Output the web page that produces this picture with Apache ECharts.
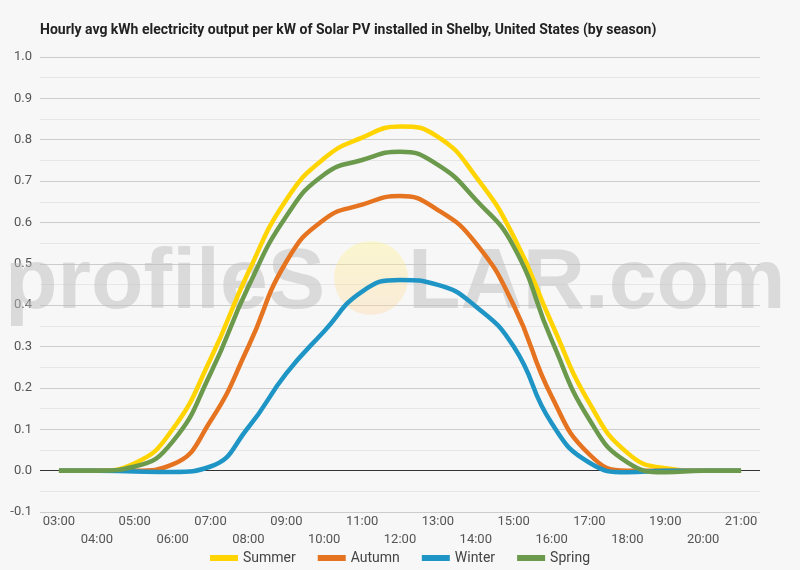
<!DOCTYPE html>
<html>
<head>
<meta charset="utf-8">
<script src="https://cdn.jsdelivr.net/npm/echarts@6/dist/echarts.min.js"></script>
<style>
  html, body { margin: 0; padding: 0; background: #f7f7f7; }
  #chart { width: 800px; height: 570px; }
</style>
</head>
<body>
<div id="chart"></div>
<script>
// hourly averages, 03:00 .. 21:00
const hours = ['03:00', '04:00', '05:00', '06:00', '07:00', '08:00', '09:00', '10:00', '11:00', '12:00',
  '13:00', '14:00', '15:00', '16:00', '17:00', '18:00', '19:00', '20:00', '21:00'];

const summer = [0, 0, 0.018, 0.10, 0.27, 0.48, 0.655, 0.755, 0.805, 0.832, 0.807, 0.711, 0.566, 0.357, 0.163, 0.043, 0.006, 0, 0];
const autumn = [0, 0, 0, 0.015, 0.12, 0.30, 0.505, 0.607, 0.643, 0.664, 0.63, 0.55, 0.40, 0.18, 0.039, 0, 0, 0, 0];
const winter = [0, 0, -0.002, -0.003, 0.01, 0.105, 0.235, 0.337, 0.433, 0.461, 0.449, 0.397, 0.30, 0.115, 0.019, -0.004, 0, 0, 0];
const spring = [0, 0, 0.01, 0.07, 0.235, 0.445, 0.615, 0.716, 0.751, 0.771, 0.739, 0.655, 0.542, 0.316, 0.123, 0.02, -0.004, 0, 0];

const yTicks = { min: -0.1, max: 1.0, step: 0.1 };

const seasons = [
  { name: 'Summer', data: summer, color: '#ffd400' },
  { name: 'Autumn', data: autumn, color: '#e5731f' },
  { name: 'Winter', data: winter, color: '#1f95c6' },
  { name: 'Spring', data: spring, color: '#6c9a4d' }
];

const font = 'Roboto, "Noto Sans", sans-serif';
const markFont = 'bold 86px "Liberation Sans", Arial, sans-serif';
const chart = echarts.init(document.getElementById('chart'));

const series = seasons.map((s, i) => ({
  name: s.name,
  type: 'line',
  data: s.data,
  smooth: true,
  symbol: 'none',
  z: 3,
  lineStyle: { color: s.color, width: 4.5 },
  itemStyle: { color: s.color },
  markLine: i === 0 ? {
    silent: true,
    symbol: 'none',
    label: { show: false },
    lineStyle: { color: '#333', width: 1, type: 'solid' },
    data: [{ yAxis: 0 }],
    z: 2
  } : undefined
}));

chart.setOption({
  backgroundColor: '#f7f7f7',
  animation: false,
  textStyle: { fontFamily: font },
  title: {
    text: 'Hourly avg kWh electricity output per kW of Solar PV installed in Shelby, United States (by season)',
    left: 35,
    top: 18,
    textStyle: { fontSize: 14, fontWeight: 'bold', color: '#222', fontFamily: font }
  },
  graphic: [
    {
      type: 'text', z: 1, silent: true,
      left: 5, top: 241,
      style: { text: 'profileS', font: markFont, fill: 'rgba(190,190,190,0.5)' }
    },
    {
      type: 'circle', z: 1, silent: true,
      shape: { cx: 371, cy: 278, r: 37 },
      style: {
        fill: new echarts.graphic.LinearGradient(0, 0, 0, 1, [
          { offset: 0, color: 'rgba(255,245,140,0.38)' },
          { offset: 1, color: 'rgba(255,210,150,0.32)' }
        ])
      }
    },
    {
      type: 'text', z: 1, silent: true,
      left: 408, top: 241,
      style: { text: 'LAR.com', font: markFont, fill: 'rgba(190,190,190,0.5)' }
    }
  ],
  legend: {
    bottom: 0,
    left: 'center',
    icon: 'rect',
    itemWidth: 28,
    itemHeight: 6,
    itemGap: 22,
    textStyle: { fontSize: 14, color: '#444', fontFamily: font },
    data: seasons.map(s => s.name)
  },
  grid: { left: 40, right: 40, top: 57, bottom: 58, containLabel: false },
  xAxis: {
    type: 'category',
    data: hours,
    boundaryGap: true,
    axisLine: { show: false },
    axisTick: { show: false },
    axisLabel: {
      interval: 0,
      color: '#555',
      fontSize: 13,
      lineHeight: 18,
      margin: 1,
      formatter: (v, i) => (i % 2 ? '\n' + v : v)
    },
    splitLine: { show: false }
  },
  yAxis: {
    type: 'value',
    min: yTicks.min,
    max: yTicks.max,
    interval: yTicks.step,
    axisLine: { show: false },
    axisTick: { show: false },
    axisLabel: {
      color: '#555',
      fontSize: 13,
      margin: 8,
      formatter: v => v.toFixed(1)
    },
    splitLine: { show: true, lineStyle: { color: '#cccccc', width: 1 } },
    minorTick: { show: false, splitNumber: 2 },
    minorSplitLine: { show: true, lineStyle: { color: '#e6e6e6', width: 1 } }
  },
  series: series
});
</script>
</body>
</html>
